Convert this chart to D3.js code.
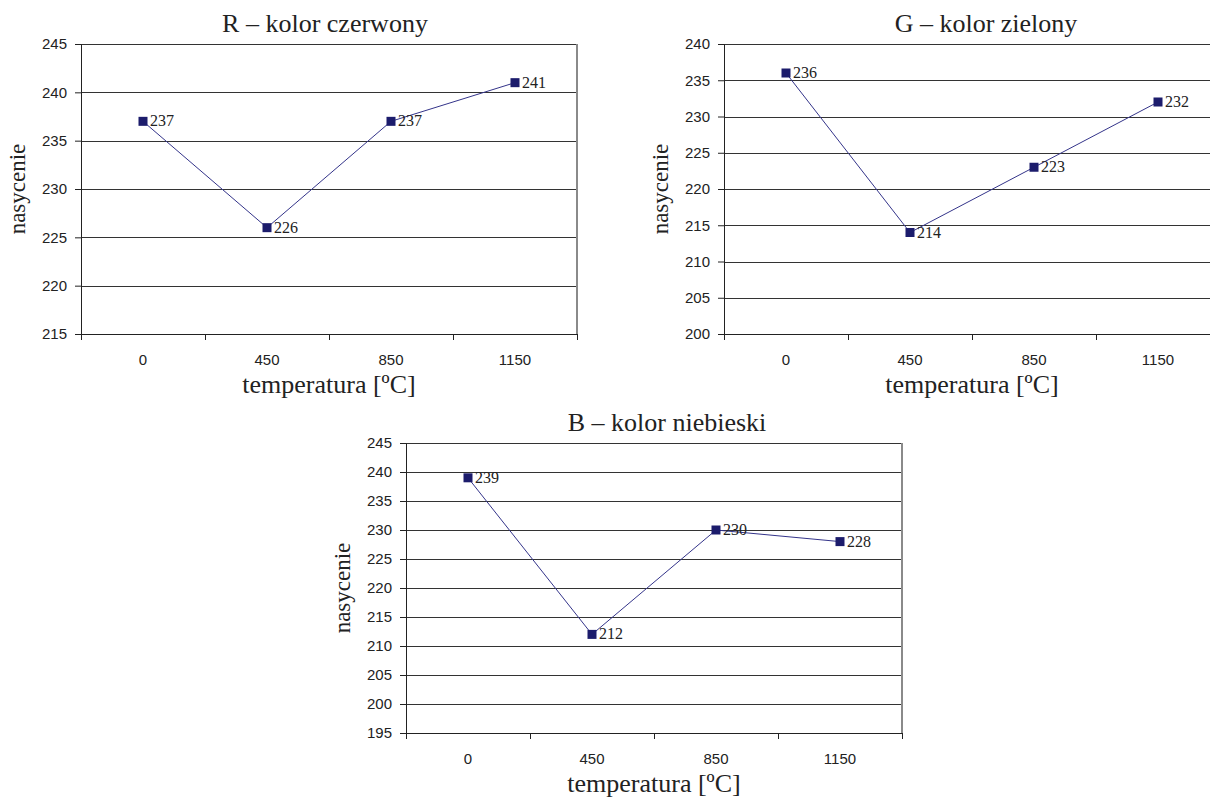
<!DOCTYPE html>
<html>
<head>
<meta charset="utf-8">
<script src="https://cdn.jsdelivr.net/npm/d3@7"></script>
<style>
  body { margin: 0; background: #fff; }
  svg { display: block; }
  .tick text { font-family: "Liberation Sans", Arial, sans-serif; font-size: 15px; fill: #222; }
  .serif { font-family: "Liberation Serif", "Times New Roman", serif; fill: #222; }
</style>
</head>
<body>
<svg width="1210" height="801"></svg>
<script>
// temperatura (kategorie)
var temps = ["0", "450", "850", "1150"];

// nasycenie dla kazdej skladowej
var redValues = [237, 226, 237, 241];
var greenValues = [236, 214, 223, 232];
var blueValues = [239, 212, 230, 228];

var redTicks = [215, 220, 225, 230, 235, 240, 245];
var greenTicks = [200, 205, 210, 215, 220, 225, 230, 235, 240];
var blueTicks = [195, 200, 205, 210, 215, 220, 225, 230, 235, 240, 245];

var svg = d3.select("svg");
var markColor = "#1c1c6c";
var lineColor = "#34348a";

function drawPanel(opts) {
  var w = 496, h = 290;
  var g = svg.append("g").attr("transform", "translate(" + opts.left + "," + opts.top + ")");

  var x = d3.scaleBand().domain(temps).range([0, w]);
  var y = d3.scaleLinear().domain(d3.extent(opts.ticks)).range([h, 0]);

  // linie siatki
  g.selectAll(".grid")
    .data(opts.ticks)
    .enter().append("line")
    .attr("x1", 0).attr("x2", w)
    .attr("y1", d => Math.round(y(d)) + 0.5)
    .attr("y2", d => Math.round(y(d)) + 0.5)
    .attr("stroke", "#333")
    .attr("stroke-width", 1);

  // prawa krawedz
  g.append("line")
    .attr("x1", w).attr("x2", w).attr("y1", 0).attr("y2", h)
    .attr("stroke", "#8a8a8a").attr("stroke-width", 2);

  // os Y
  var yAxis = g.append("g")
    .call(d3.axisLeft(y).tickValues(opts.ticks).tickSize(6).tickPadding(8));
  yAxis.select(".domain").attr("stroke", "#222");
  yAxis.selectAll(".tick line").attr("stroke", "#222");

  // os X - kreski na granicach kategorii
  var xg = g.append("g").attr("transform", "translate(0," + h + ")");
  xg.append("line").attr("x1", 0).attr("x2", w).attr("y1", 0.5).attr("y2", 0.5).attr("stroke", "#222");
  var bounds = temps.map(d => x(d)).concat([w]);
  xg.selectAll(".xt")
    .data(bounds)
    .enter().append("line")
    .attr("x1", d => Math.round(d) + 0.5).attr("x2", d => Math.round(d) + 0.5)
    .attr("y1", 0).attr("y2", 6)
    .attr("stroke", "#222");
  xg.selectAll(".xl")
    .data(temps)
    .enter().append("text")
    .attr("class", "tick-label")
    .attr("x", d => x(d) + x.bandwidth() / 2)
    .attr("y", 31)
    .attr("text-anchor", "middle")
    .style("font-family", "Liberation Sans, Arial, sans-serif")
    .style("font-size", "15px")
    .style("fill", "#222")
    .text(d => d);

  var pts = temps.map((t, i) => ({t: t, v: opts.values[i]}));
  var cx = d => x(d.t) + x.bandwidth() / 2;

  g.append("path")
    .datum(pts)
    .attr("fill", "none")
    .attr("stroke", lineColor)
    .attr("stroke-width", 1)
    .attr("d", d3.line().x(cx).y(d => y(d.v)));

  g.selectAll(".pt")
    .data(pts)
    .enter().append("rect")
    .attr("x", d => cx(d) - 4.5)
    .attr("y", d => y(d.v) - 4.5)
    .attr("width", 9).attr("height", 9)
    .attr("fill", markColor);

  g.selectAll(".lbl")
    .data(pts)
    .enter().append("text")
    .attr("class", "serif")
    .attr("x", d => cx(d) + 7)
    .attr("y", d => y(d.v) + 5)
    .style("font-size", "16px")
    .text(d => d.v);

  // tytul
  svg.append("text")
    .attr("class", "serif")
    .attr("x", opts.titleX)
    .attr("y", opts.top - 12)
    .attr("text-anchor", "middle")
    .style("font-size", "26px")
    .text(opts.title);

  // opis osi X
  svg.append("text")
    .attr("class", "serif")
    .attr("x", opts.left + w / 2)
    .attr("y", opts.top + h + 59)
    .attr("text-anchor", "middle")
    .style("font-size", "26px")
    .text("temperatura [ºC]");

  // opis osi Y
  svg.append("text")
    .attr("class", "serif")
    .attr("transform", "translate(" + (opts.left - 56) + "," + (opts.top + h / 2) + ") rotate(-90)")
    .attr("text-anchor", "middle")
    .style("font-size", "23px")
    .text("nasycenie");
}

drawPanel({left: 81, top: 44, values: redValues, ticks: redTicks, title: "R – kolor czerwony", titleX: 325});
drawPanel({left: 724, top: 44, values: greenValues, ticks: greenTicks, title: "G – kolor zielony", titleX: 986});
drawPanel({left: 406, top: 443, values: blueValues, ticks: blueTicks, title: "B – kolor niebieski", titleX: 667});
</script>
</body>
</html>
